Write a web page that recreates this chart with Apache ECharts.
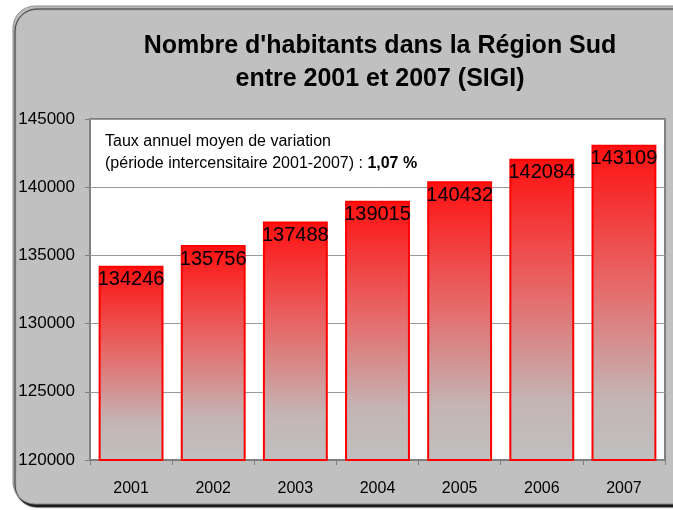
<!DOCTYPE html>
<html>
<head>
<meta charset="utf-8">
<script src="https://cdn.jsdelivr.net/npm/echarts@6/dist/echarts.min.js"></script>
<style>
  html, body { margin: 0; padding: 0; background: #fff; }
  #chart { width: 673px; height: 510px; }
</style>
</head>
<body>
<div id="chart"></div>
<script>
// données
var years = ['2001', '2002', '2003', '2004', '2005', '2006', '2007']
var habitants = [134246, 135756, 137488, 139015, 140432, 142084, 143109]
var titleLines = ["Nombre d'habitants dans la Région Sud", 'entre 2001 et 2007 (SIGI)']
var noteLine1 = 'Taux annuel moyen de variation'
var noteLine2 = '(période intercensitaire 2001-2007) : '
var noteRate = '1,07 %'

var chart = echarts.init(document.getElementById('chart'))

var barColor = new echarts.graphic.LinearGradient(0, 0, 0, 1, [
  { offset: 0, color: '#ff1010' },
  { offset: 0.45, color: '#e66a6a' },
  { offset: 0.8, color: '#c4b4b4' },
  { offset: 1, color: '#c0c0c0' }
])

var option = {
  animation: false,
  textStyle: { fontFamily: 'Liberation Sans, Arial, sans-serif' },
  graphic: [
    {
      type: 'rect',
      z: -10,
      shape: { x: 13, y: 6, width: 700, height: 498, r: 22 },
      style: {
        fill: '#c0c0c0',
        stroke: '#8a8a8a',
        lineWidth: 1,
        shadowColor: 'rgba(0,0,0,0.9)',
        shadowOffsetX: 2,
        shadowOffsetY: 3,
        shadowBlur: 1
      }
    },
    {
      type: 'text',
      left: 105,
      top: 131,
      z: 10,
      style: {
        text: noteLine1 + '\n' + noteLine2 + '{b|' + noteRate + '}',
        rich: { b: { fontWeight: 'bold', fontSize: 16, fill: '#000' } },
        font: '16px Liberation Sans, Arial, sans-serif',
        lineHeight: 22,
        fill: '#000'
      }
    }
  ],
  title: {
    text: titleLines.join('\n'),
    left: 375,
    textAlign: 'center',
    top: 25,
    textStyle: {
      fontSize: 25,
      fontWeight: 'bold',
      color: '#000',
      lineHeight: 33
    }
  },
  grid: {
    left: 90,
    right: 8,
    top: 119,
    bottom: 50,
    show: true,
    backgroundColor: '#fff',
    borderColor: '#808080',
    borderWidth: 2
  },
  xAxis: {
    type: 'category',
    data: years,
    axisLine: { show: true, lineStyle: { color: '#808080', width: 1 } },
    axisTick: { show: true, length: 5, lineStyle: { color: '#808080' } },
    axisLabel: { color: '#000', fontSize: 16, margin: 21 }
  },
  yAxis: {
    type: 'value',
    min: 120000,
    max: 145000,
    interval: 5000,
    axisLine: { show: false },
    axisTick: { show: true, length: 5, lineStyle: { color: '#808080' } },
    axisLabel: {
      color: '#000',
      fontSize: 17,
      margin: 15,
      formatter: function (v) { return String(v) }
    },
    splitLine: { lineStyle: { color: '#999', width: 1 } }
  },
  series: [
    {
      type: 'bar',
      data: habitants,
      barWidth: '79%',
      itemStyle: {
        color: barColor,
        borderColor: '#ff0000',
        borderWidth: 2
      },
      label: {
        show: true,
        position: 'insideTop',
        distance: 4,
        color: '#000',
        fontSize: 20
      }
    }
  ]
}

chart.setOption(option)
</script>
</body>
</html>
